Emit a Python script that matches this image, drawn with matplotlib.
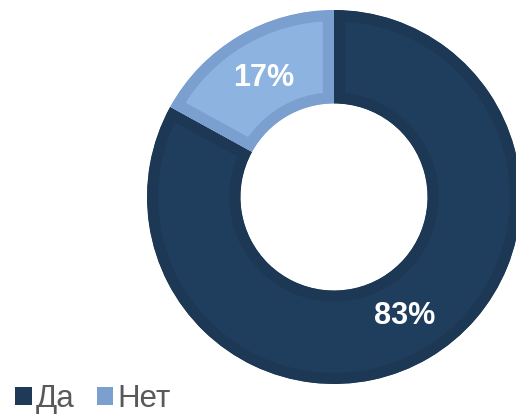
import matplotlib
matplotlib.use("Agg")
import matplotlib.pyplot as plt
from matplotlib.patches import Patch

labels = ["Да", "Нет"]
values = [83, 17]
fills = ["#1F3D5C", "#8DB3E1"]
edges = ["#1D3855", "#7B9FCF"]

W, H = 516, 415
fig = plt.figure(figsize=(W / 100, H / 100), dpi=100)
cx, cy, r = 334, 197, 187
ax = fig.add_axes([(cx - r) / W, (H - cy - r) / H, 2 * r / W, 2 * r / H])

wedges, texts, autotexts = ax.pie(
    values, colors=fills, startangle=90, counterclock=False, radius=1,
    wedgeprops=dict(width=0.5, linewidth=16),
    autopct=lambda p: f"{p:.0f}%", pctdistance=0.74,
    textprops=dict(color="white", fontsize=22, fontweight="bold", family="Liberation Sans"),
)
ax.set_xlim(-1, 1)
ax.set_ylim(-1, 1)
ax.set_aspect("equal")
ax.axis("off")
for w, e in zip(wedges, edges):
    w.set_edgecolor(e)
    w.set_clip_on(True)
    w.set_clip_path(w)

handles = [Patch(facecolor="#1F3A57", edgecolor="none"), Patch(facecolor=edges[1], edgecolor="none")]
leg = fig.legend(handles, labels, ncol=2, loc="lower left", bbox_to_anchor=(15 / W, 1 / H),
                 frameon=False, handlelength=0.53, handleheight=0.53,
                 handletextpad=0.13, columnspacing=0.72, borderaxespad=0, borderpad=0,
                 prop=dict(family="Liberation Sans", size=22.5))
for t in leg.get_texts():
    t.set_color("#595959")

fig.savefig("out.png", dpi=100)
